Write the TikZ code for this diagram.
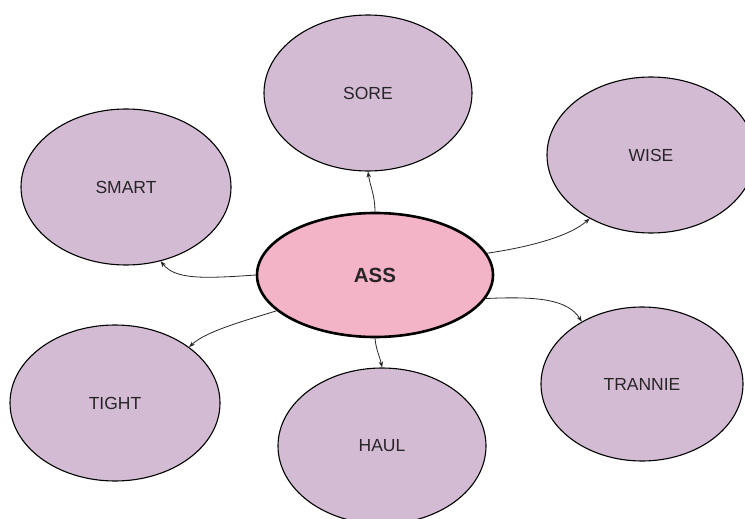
\documentclass[tikz,border=0pt]{standalone}
\usepackage{fontspec}
\setmainfont{Liberation Sans}
\usetikzlibrary{shapes.geometric,arrows.meta}
\definecolor{lilac}{RGB}{211,188,211}
\definecolor{pinkfill}{RGB}{244,180,199}
\definecolor{txt}{RGB}{40,36,40}
\begin{document}
\begin{tikzpicture}[x=1pt,y=-1pt,
  leaf/.style={ellipse,draw=black,line width=1.1pt,fill=lilac,inner sep=0pt,
    minimum width=208pt,minimum height=156pt,text=txt,font=\fontsize{17.5}{19}\selectfont},
  hub/.style={ellipse,draw=black,line width=2.6pt,fill=pinkfill,inner sep=0pt,
    minimum width=236pt,minimum height=124pt,text=txt,font=\bfseries\fontsize{20.5}{22}\selectfont},
  link/.style={draw=black!85,line width=0.8pt,-{Stealth[length=6pt,width=4.5pt]}}]
\useasboundingbox (0,0) rectangle (745,519);
\clip (0,0) rectangle (745,519);
\fill[white] (0,0) rectangle (745,519);

\node[leaf] (sore) at (368,93) {SORE};
\node[leaf] (wise) at (651,155) {WISE};
\node[leaf, minimum width=210pt] (smart) at (126,187) {SMART};
\node[leaf, minimum width=210pt] (tight) at (115,403) {TIGHT};
\node[leaf] (haul) at (382,446) {HAUL};
\node[leaf, minimum width=202pt, minimum height=154pt] (trannie) at (642,384) {TRANNIE};
\node[hub] (ass) at (375,275) {ASS};

\draw[link] (ass.north) .. controls (375,195) and (370,186) .. (sore.south);
\draw[link] (ass.11) .. controls (530,247) and (570,236) .. (wise.226);
\draw[link] (ass.180) .. controls (200,279) and (175,279) .. (smart.-65);
\draw[link] (ass.200) .. controls (240,322) and (205,332) .. (tight.37);
\draw[link] (ass.south) .. controls (376,350) and (380,357) .. (haul.north);
\draw[link] (ass.-12) .. controls (540,296) and (568,300) .. (trannie.134);
\end{tikzpicture}
\end{document}
